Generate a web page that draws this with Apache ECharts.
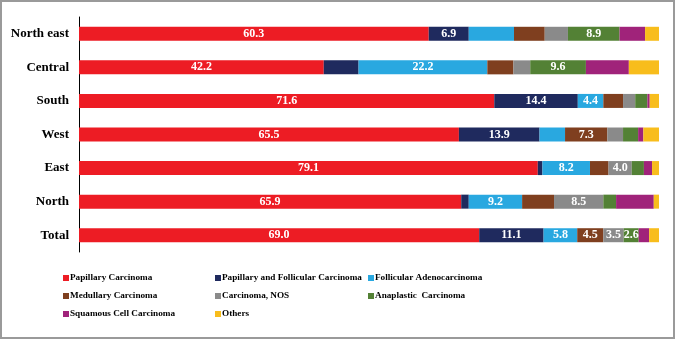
<!DOCTYPE html>
<html>
<head>
<meta charset="utf-8">
<script src="https://cdn.jsdelivr.net/npm/echarts@6/dist/echarts.min.js"></script>
<style>html,body{margin:0;padding:0;background:#fff;}#c{width:677px;height:340px;}</style>
</head>
<body>
<div id="c"></div>
<script>
const categories = ['North east', 'Central', 'South', 'West', 'East', 'North', 'Total'];
const seriesNames = ['Papillary Carcinoma', 'Papillary and Follicular Carcinoma', 'Follicular Adenocarcinoma',
  'Medullary Carcinoma', 'Carcinoma, NOS', 'Anaplastic  Carcinoma', 'Squamous Cell Carcinoma', 'Others'];
const papillary   = [60.3, 42.2, 71.6, 65.5, 79.1, 65.9, 69.0];
const papFoll     = [6.9, 6.0, 14.4, 13.9, 0.8, 1.3, 11.1];
const follAdeno   = [7.8, 22.2, 4.4, 4.4, 8.2, 9.2, 5.8];
const medullary   = [5.3, 4.5, 3.4, 7.3, 3.2, 5.5, 4.5];
const nos         = [4.0, 2.9, 2.1, 2.7, 4.0, 8.5, 3.5];
const anaplastic  = [8.9, 9.6, 2.1, 2.6, 2.1, 2.2, 2.6];
const squamous    = [4.4, 7.4, 0.4, 0.9, 1.4, 6.5, 1.8];
const others      = [2.4, 5.2, 1.6, 2.7, 1.2, 0.9, 1.7];
// which points carry a value label (by category index)
const labelled = [
  [0,1,2,3,4,5,6],
  [0,2,3,6],
  [1,2,4,5,6],
  [3,6],
  [4,5,6],
  [0,1,6],
  [],
  []
];
const allValues = [papillary, papFoll, follAdeno, medullary, nos, anaplastic, squamous, others];
const colors = ['#ED1C24', '#1F2A5E', '#29A8E0', '#7F3F1F', '#8A8A8A', '#538135', '#A0237A', '#F8BD1C'];
const serif = '"Liberation Serif", "DejaVu Serif", serif';

const series = allValues.map((vals, si) => ({
  name: seriesNames[si],
  type: 'bar',
  stack: 'total',
  barWidth: 14,
  itemStyle: { color: colors[si] },
  emphasis: { disabled: true },
  data: vals.map((v, ci) => ({
    value: v,
    label: {
      show: labelled[si].indexOf(ci) >= 0,
      position: 'inside',
      color: '#fff',
      fontFamily: serif,
      fontWeight: 'bold',
      fontSize: 12,
      formatter: p => Number(p.value).toFixed(1)
    }
  }))
}));

const legendCommon = {
  orient: 'vertical',
  top: 272,
  padding: 0,
  icon: 'rect',
  itemWidth: 6,
  itemHeight: 6,
  itemGap: 6,
  selectedMode: false,
  textStyle: { fontFamily: serif, fontWeight: 'bold', fontSize: 9.2, color: '#000', lineHeight: 12, padding: [0, 0, 0, -4] }
};

const chart = echarts.init(document.getElementById('c'));
chart.setOption({
  animation: false,
  color: colors,
  grid: { left: 79, right: 18, top: 17, height: 235 },
  xAxis: { type: 'value', min: 0, max: 100, show: false },
  yAxis: {
    type: 'category',
    data: categories,
    inverse: true,
    axisLine: { show: true, lineStyle: { color: '#000', width: 1 } },
    axisTick: { show: false },
    axisLabel: { fontFamily: serif, fontWeight: 'bold', fontSize: 13, color: '#000', margin: 10 }
  },
  legend: [
    Object.assign({}, legendCommon, { left: 63, data: [seriesNames[0], seriesNames[3], seriesNames[6]] }),
    Object.assign({}, legendCommon, { left: 215, data: [seriesNames[1], seriesNames[4], seriesNames[7]] }),
    Object.assign({}, legendCommon, { left: 368, data: [seriesNames[2], seriesNames[5]] })
  ],
  graphic: [{
    type: 'rect',
    shape: { x: 1, y: 1, width: 673, height: 337 },
    style: { fill: 'none', stroke: '#9a9a9a', lineWidth: 2 },
    silent: true
  }],
  series: series
});
</script>
</body>
</html>
